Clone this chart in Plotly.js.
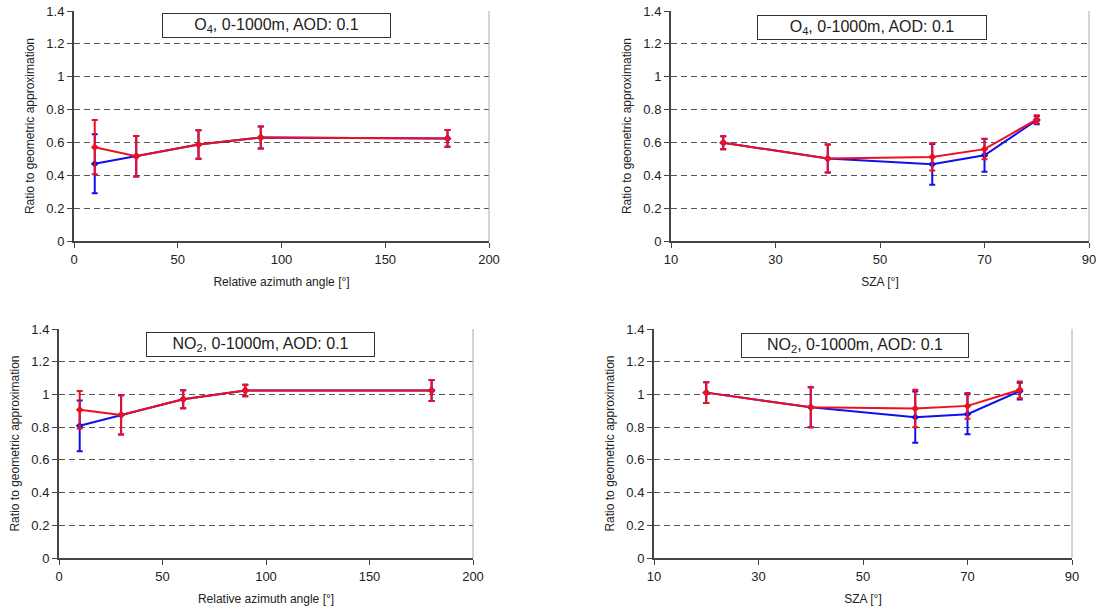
<!DOCTYPE html>
<html>
<head>
<meta charset="utf-8">
<script src="https://cdn.plot.ly/plotly-3.0.1.min.js"></script>
<style>html,body{margin:0;padding:0;background:#fff;}#chart{width:1099px;height:609px;}</style>
</head>
<body>
<div id="chart"></div>
<script>
// ---- Data ----
const raa = [10, 30, 60, 90, 180];
const sza = [20, 40, 60, 70, 80];

// O4 vs relative azimuth angle
const o4RaaBlue = [0.47, 0.516, 0.587, 0.630, 0.624];
const o4RaaBlueErr = [0.18, 0.123, 0.087, 0.067, 0.051];
const o4RaaRed = [0.571, 0.516, 0.587, 0.630, 0.624];
const o4RaaRedErr = [0.165, 0.123, 0.087, 0.067, 0.051];

// O4 vs SZA
const o4SzaBlue = [0.598, 0.502, 0.467, 0.522, 0.735];
const o4SzaBlueErr = [0.04, 0.085, 0.124, 0.10, 0.025];
const o4SzaRed = [0.598, 0.502, 0.512, 0.559, 0.74];
const o4SzaRedErr = [0.04, 0.085, 0.083, 0.062, 0.025];

// NO2 vs relative azimuth angle
const no2RaaBlue = [0.808, 0.875, 0.971, 1.024, 1.024];
const no2RaaBlueErr = [0.155, 0.12, 0.055, 0.035, 0.064];
const no2RaaRed = [0.906, 0.875, 0.971, 1.024, 1.024];
const no2RaaRedErr = [0.115, 0.12, 0.055, 0.035, 0.064];

// NO2 vs SZA
const no2SzaBlue = [1.011, 0.922, 0.861, 0.879, 1.02];
const no2SzaBlueErr = [0.063, 0.122, 0.157, 0.122, 0.051];
const no2SzaRed = [1.011, 0.922, 0.914, 0.930, 1.028];
const no2SzaRedErr = [0.063, 0.122, 0.114, 0.079, 0.051];

const yTickVals = [0, 0.2, 0.4, 0.6, 0.8, 1, 1.2, 1.4];
const yTickText = ['0', '0.2', '0.4', '0.6', '0.8', '1', '1.2', '1.4'];
const titleO4 = 'O<sub>4</sub>, 0-1000m, AOD: 0.1';
const titleNO2 = 'NO<sub>2</sub>, 0-1000m, AOD: 0.1';
const xTitleRaa = 'Relative azimuth angle [°]';
const xTitleSza = 'SZA [°]';
const yTitle = 'Ratio to geometric approximation';

// ---- Layout helpers ----
const W = 1099, H = 609;
const FONT = 'Liberation Sans, Arial, sans-serif';
const BLUE = '#1010ee', RED = '#ee1020';

function series(x, y, err, color, ax) {
  return {
    x: x, y: y, type: 'scatter', mode: 'lines+markers',
    xaxis: 'x' + ax, yaxis: 'y' + ax,
    line: {color: color, width: 2},
    marker: {color: color, size: 6, symbol: 'diamond'},
    error_y: {type: 'data', array: err, visible: true, color: color, thickness: 2, width: 3},
    showlegend: false, hoverinfo: 'x+y'
  };
}

const traces = [
  series(raa, o4RaaBlue, o4RaaBlueErr, BLUE, ''),
  series(raa, o4RaaRed, o4RaaRedErr, RED, ''),
  series(sza, o4SzaBlue, o4SzaBlueErr, BLUE, '2'),
  series(sza, o4SzaRed, o4SzaRedErr, RED, '2'),
  series(raa, no2RaaBlue, no2RaaBlueErr, BLUE, '3'),
  series(raa, no2RaaRed, no2RaaRedErr, RED, '3'),
  series(sza, no2SzaBlue, no2SzaBlueErr, BLUE, '4'),
  series(sza, no2SzaRed, no2SzaRedErr, RED, '4')
];

// panel pixel boxes [left, right, top, bottom]
const panels = [
  {box: [74, 489, 11, 241], xr: [0, 200], dt: 50, t0: 0, xt: xTitleRaa, title: titleO4, tb: [162, 391, 13, 38]},
  {box: [671, 1089, 11, 241], xr: [10, 90], dt: 20, t0: 10, xt: xTitleSza, title: titleO4, tb: [757, 987, 15, 40]},
  {box: [59, 473, 329, 558], xr: [0, 200], dt: 50, t0: 0, xt: xTitleRaa, title: titleNO2, tb: [146, 375, 332, 357]},
  {box: [654, 1072, 329, 558], xr: [10, 90], dt: 20, t0: 10, xt: xTitleSza, title: titleNO2, tb: [741, 969, 333, 358]}
];

const layout = {
  width: W, height: H,
  margin: {l: 0, r: 0, t: 0, b: 0},
  paper_bgcolor: '#fff', plot_bgcolor: '#fff',
  font: {family: FONT, size: 13, color: '#222'},
  showlegend: false,
  annotations: [], shapes: []
};

panels.forEach((p, i) => {
  const s = i === 0 ? '' : String(i + 1);
  const [l, r, t, b] = p.box;
  layout['xaxis' + s] = {
    domain: [l / W, r / W], anchor: 'y' + s, range: p.xr,
    tickmode: 'linear', tick0: p.t0, dtick: p.dt,
    showline: true, linecolor: '#444', linewidth: 2,
    ticks: 'outside', ticklen: 5, tickcolor: '#444', tickwidth: 1,
    showgrid: false, zeroline: false, automargin: false,
    tickfont: {size: 13, color: '#222'},
    title: {text: p.xt, font: {size: 12, color: '#222'}, standoff: 12}
  };
  layout['yaxis' + s] = {
    domain: [1 - b / H, 1 - t / H], anchor: 'x' + s, range: [0, 1.4],
    tickmode: 'array', tickvals: yTickVals, ticktext: yTickText,
    showline: true, linecolor: '#444', linewidth: 2,
    ticks: 'outside', ticklen: 5, tickcolor: '#444', tickwidth: 1,
    showgrid: true, gridcolor: '#555', gridwidth: 1, griddash: '6px,4px',
    zeroline: false, automargin: false,
    tickfont: {size: 13, color: '#222'},
    title: {text: yTitle, font: {size: 12, color: '#222'}, standoff: 9}
  };
  // right border
  layout.shapes.push({
    type: 'line', xref: 'x' + s + ' domain', yref: 'y' + s + ' domain',
    x0: 1, x1: 1, y0: 0, y1: 1, line: {color: '#aaa', width: 1}
  });
  // title box
  const [bl, br, bt, bb] = p.tb;
  layout.annotations.push({
    xref: 'paper', yref: 'paper',
    x: (bl + br) / 2 / W, y: 1 - (bt + bb) / 2 / H,
    xanchor: 'center', yanchor: 'middle',
    text: p.title, showarrow: false,
    font: {size: 16, color: '#222', family: FONT},
    width: br - bl - 4, height: bb - bt - 4,
    bgcolor: '#fff', bordercolor: '#333', borderwidth: 1, borderpad: 1
  });
});

Plotly.newPlot('chart', traces, layout, {staticPlot: true, displayModeBar: false});
</script>
</body>
</html>
